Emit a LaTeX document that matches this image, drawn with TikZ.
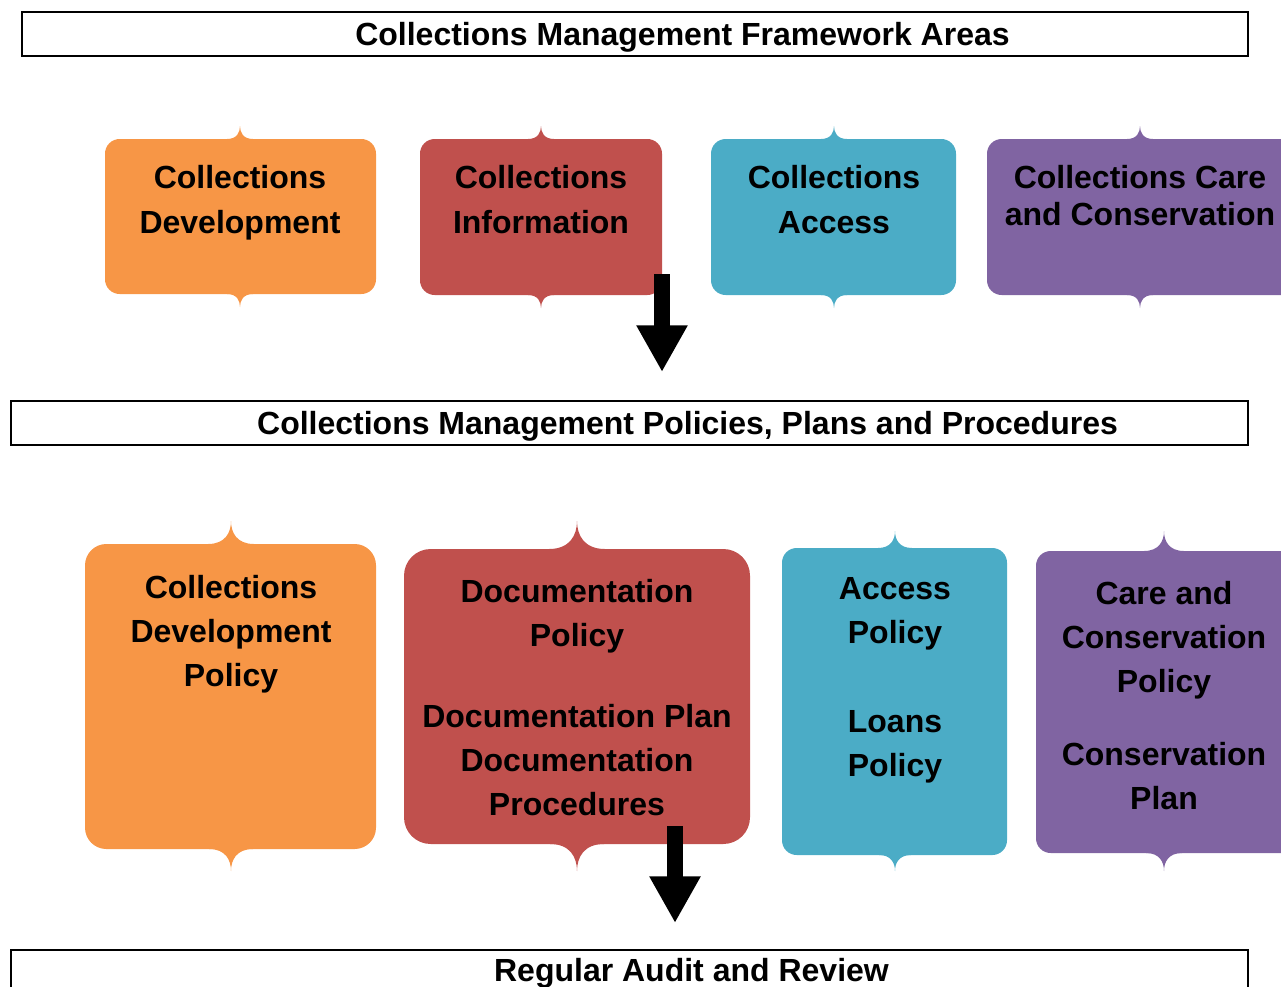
\documentclass[tikz,border=0pt]{standalone}
\usepackage{fontspec}
\setmainfont{Liberation Sans}
\usetikzlibrary{arrows.meta}

\definecolor{boxorange}{HTML}{F79646}
\definecolor{boxred}{HTML}{C0504D}
\definecolor{boxblue}{HTML}{4BACC6}
\definecolor{boxpurple}{HTML}{8064A2}

% colour, left, top, right, bottom, tip x, radius, top tip, bottom tip
\newcommand{\tabbox}[9]{%
  \fill[#1,rounded corners=#7] (#2,#3) rectangle (#4,#5);
  \fill[#1] (#6-#8,#3+3) -- (#6-#8,#3) .. controls (#6-#8/4,#3) and (#6,#3-#8/2) .. (#6,#3-#8)
    .. controls (#6,#3-#8/2) and (#6+#8/4,#3) .. (#6+#8,#3) -- (#6+#8,#3+3) -- cycle;
  \fill[#1] (#6-#9,#5-3) -- (#6-#9,#5) .. controls (#6-#9/4,#5) and (#6,#5+#9/2) .. (#6,#5+#9)
    .. controls (#6,#5+#9/2) and (#6+#9/4,#5) .. (#6+#9,#5) -- (#6+#9,#5-3) -- cycle;
}

\begin{document}
\begin{tikzpicture}[x=0.75pt,y=-0.75pt,
  boxtext/.style={font=\fontsize{24}{33.75}\selectfont\bfseries,align=center,inner sep=0pt,anchor=north},
  lowtext/.style={boxtext,font=\fontsize{24}{33}\selectfont\bfseries},
  titletext/.style={font=\fontsize{24}{33}\selectfont\bfseries,inner sep=0pt,anchor=base},
  titlebox/.style={draw,line width=1.2pt},
  bigarrow/.style={line width=12pt,-{Triangle[width=36pt,length=35pt]}}]
\useasboundingbox (0,0) rectangle (1281,986);
\clip (0,0) rectangle (1281,986);

% headings
\draw[titlebox] (22,12) rectangle (1248,56);
\node[titletext] (areas) at (682.5,45.5) {Collections Management Framework Areas};
\draw[titlebox] (11,401) rectangle (1248,445);
\node[titletext] (policies) at (687.5,434.5) {Collections Management Policies, Plans and Procedures};
\draw[titlebox] (11,950) rectangle (1248,1000);
\node[titletext] (audit) at (691.5,981.5) {Regular Audit and Review};

% framework areas
\tabbox{boxorange}{105}{139}{376}{294}{240}{11pt}{13}{13}
\tabbox{boxred}{420}{139}{662}{295}{541}{11pt}{13}{13}
\tabbox{boxblue}{711}{139}{956}{295}{834}{11pt}{13}{13}
\tabbox{boxpurple}{987}{139}{1300}{295}{1140}{11pt}{13}{13}
\node[boxtext] (devarea) at (240,165) {Collections\\Development};
\node[boxtext] (infoarea) at (541,165) {Collections\\Information};
\node[boxtext] (accarea) at (834,165) {Collections\\Access};
\node[boxtext,font=\fontsize{24}{28}\selectfont\bfseries] (carearea) at (1140,165) {Collections Care\\and Conservation};

% policies, plans and procedures
\tabbox{boxorange}{85}{544}{376}{849}{231}{16pt}{23}{22}
\tabbox{boxred}{404}{549}{750}{844}{577}{20pt}{28}{27}
\tabbox{boxblue}{782}{548}{1007}{855}{895}{11pt}{17}{16}
\tabbox{boxpurple}{1036}{551}{1300}{853}{1164}{11pt}{20}{18}
\node[lowtext] (devpol) at (231,575) {Collections\\Development\\Policy};
\node[lowtext] (docpol) at (577,579) {Documentation\\Policy\\[28pt]Documentation Plan\\Documentation\\Procedures};
\node[lowtext] (accpol) at (895,577) {Access\\Policy\\[34pt]Loans\\Policy};
\node[lowtext] (carepol) at (1164,581) {Care and\\Conservation\\Policy\\[22pt]Conservation\\Plan};

% arrows
\coordinate (arrowtop) at (662,274);
\coordinate (arrowtopend) at (662,372);
\draw[bigarrow] (arrowtop) -- (arrowtopend);
\coordinate (arrowlow) at (675,826);
\coordinate (arrowlowend) at (675,923);
\draw[bigarrow] (arrowlow) -- (arrowlowend);
\end{tikzpicture}
\end{document}
